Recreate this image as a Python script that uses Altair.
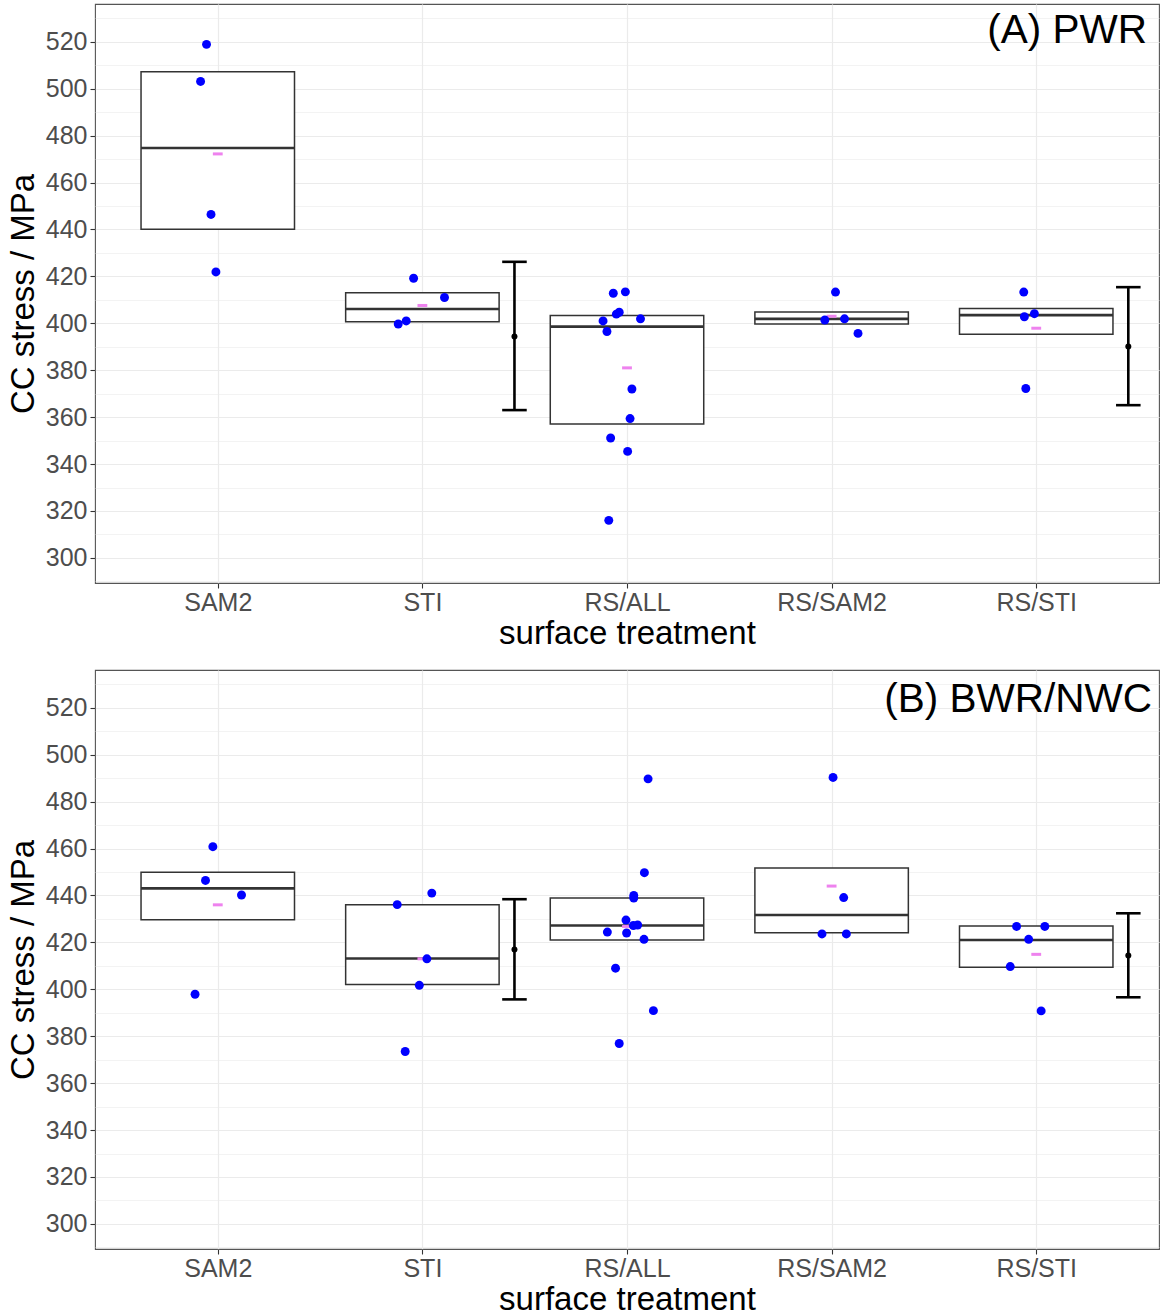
import json
import pandas as pd
import altair as alt

categories = ["SAM2", "STI", "RS/ALL", "RS/SAM2", "RS/STI"]

# ---------------- Panel A: PWR ----------------
a_values = {
    "SAM2": [518.9, 503.1, 446.4, 421.9],
    "STI": [419.2, 411.0, 401.0, 399.7],
    "RS/ALL": [412.8, 413.4, 403.9, 404.7, 401.0, 401.9, 396.5, 372.0, 359.4, 351.1, 345.4, 316.0],
    "RS/SAM2": [413.3, 401.4, 401.9, 395.7],
    "RS/STI": [413.3, 404.1, 402.8, 372.2],
}
a_jitter = {
    "SAM2": [-0.055, -0.084, -0.033, -0.009],
    "STI": [-0.043, 0.108, -0.079, -0.118],
    "RS/ALL": [-0.067, -0.008, -0.052, -0.038, -0.117, 0.066, -0.098, 0.024, 0.015, -0.080, 0.003, -0.089],
    "RS/SAM2": [0.019, -0.033, 0.063, 0.129],
    "RS/STI": [-0.061, -0.009, -0.058, -0.051],
}
a_q1 = [440.1, 400.7, 357.1, 399.7, 395.3]
a_median = [474.7, 406.1, 398.6, 401.9, 403.5]
a_q3 = [507.2, 413.0, 403.3, 404.8, 406.3]
a_mean = [472.2, 407.6, 381.0, 403.0, 397.9]
a_err_cat = ["STI", "RS/STI"]
a_err_center = [394.4, 390.1]
a_err_low = [363.0, 365.1]
a_err_high = [426.2, 415.4]

# ---------------- Panel B: BWR/NWC ----------------
b_values = {
    "SAM2": [460.8, 446.4, 440.2, 397.9],
    "STI": [441.0, 436.1, 413.0, 401.7, 373.5],
    "RS/ALL": [489.7, 449.7, 440.0, 438.9, 429.5, 427.2, 427.4, 424.4, 424.0, 421.3, 409.0, 390.9, 376.9],
    "RS/SAM2": [490.3, 439.1, 423.6, 423.6],
    "RS/STI": [426.8, 426.8, 421.3, 409.7, 390.8],
}
b_jitter = {
    "SAM2": [-0.024, -0.060, 0.116, -0.111],
    "STI": [0.046, -0.123, 0.022, -0.015, -0.084],
    "RS/ALL": [0.103, 0.085, 0.033, 0.033, -0.005, 0.031, 0.052, -0.096, -0.002, 0.083, -0.056, 0.129, -0.038],
    "RS/SAM2": [0.007, 0.059, -0.047, 0.072],
    "RS/STI": [-0.096, 0.042, -0.037, -0.127, 0.024],
}
b_q1 = [429.6, 402.0, 421.0, 424.1, 409.4]
b_median = [443.0, 413.1, 427.2, 431.7, 421.0]
b_q3 = [449.9, 436.0, 438.9, 451.7, 427.0]
b_mean = [436.0, 413.0, 426.8, 444.0, 414.9]
b_err_cat = ["STI", "RS/STI"]
b_err_center = [417.0, 414.4]
b_err_low = [395.7, 396.6]
b_err_high = [438.4, 432.4]

y_domain = [289.3, 536.1]
y_ticks = list(range(290, 531, 10))

W, H = 1064, 579
BOX_HALF = 0.375
MEAN_HALF = 0.024
ERR_OFFSET = 0.45
CAP_HALF = 0.06

label_expr = json.dumps(categories) + "[datum.value - 1]"

XS = alt.Scale(domain=[0.4, 5.6], nice=False, zero=False)
YS = alt.Scale(domain=y_domain, nice=False, zero=False)

X_AXIS = alt.Axis(values=[1, 2, 3, 4, 5], labelExpr=label_expr, grid=True,
                  gridColor="#EBEBEB", gridWidth=1.2, domain=False,
                  tickColor="#333333", tickSize=5, tickWidth=1.1,
                  labelPadding=2, title="surface treatment", titlePadding=2)
Y_AXIS = alt.Axis(values=y_ticks,
                  labelExpr="datum.value % 20 == 0 ? datum.label : ''",
                  grid=True,
                  gridColor="#EBEBEB",
                  gridWidth=alt.condition("datum.value % 20 == 0", alt.value(1.2), alt.value(0.6)),
                  tickOpacity=alt.condition("datum.value % 20 == 0", alt.value(1), alt.value(0)),
                  domain=False, tickColor="#333333", tickSize=5, tickWidth=1.1,
                  labelPadding=3, title="CC stress / MPa", titlePadding=5)


def X(f):
    return alt.X(f, scale=XS, axis=X_AXIS, title="surface treatment")


def Y(f):
    return alt.Y(f, scale=YS, axis=Y_AXIS, title="CC stress / MPa")


def panel(values, jitter, q1, med, q3, mean, err_cat, err_c, err_lo, err_hi,
          label, label_right, label_baseline):
    pts = []
    for i, c in enumerate(categories):
        for v, j in zip(values[c], jitter[c]):
            pts.append({"x": i + 1 + j, "v": v})
    pts = pd.DataFrame(pts)
    box = pd.DataFrame({
        "c": [i + 1 for i in range(len(categories))],
        "q1": q1, "med": med, "q3": q3, "mean": mean,
    })
    err = pd.DataFrame({
        "c": [categories.index(c) + 1 + ERR_OFFSET for c in err_cat],
        "m": err_c, "lo": err_lo, "hi": err_hi,
    })

    base_box = alt.Chart(box).transform_calculate(
        x1=f"datum.c - {BOX_HALF}", x2=f"datum.c + {BOX_HALF}",
        m1=f"datum.c - {MEAN_HALF}", m2=f"datum.c + {MEAN_HALF}",
    )
    rect = base_box.mark_rect(fill="white", stroke="#333333", strokeWidth=1.5).encode(
        x=X("x1:Q"), x2="x2:Q", y=Y("q1:Q"), y2="q3:Q",
    )
    median = base_box.mark_rule(color="#333333", strokeWidth=2.6).encode(
        x=X("x1:Q"), x2="x2:Q", y=Y("med:Q"),
    )
    mean_r = base_box.mark_rule(color="#EE82EE", strokeWidth=3).encode(
        x=X("m1:Q"), x2="m2:Q", y=Y("mean:Q"),
    )
    points = alt.Chart(pts).mark_circle(color="#0000FF", opacity=1, size=80).encode(
        x=X("x:Q"), y=Y("v:Q"),
    )
    base_err = alt.Chart(err).transform_calculate(
        l=f"datum.c - {CAP_HALF}", r=f"datum.c + {CAP_HALF}"
    )
    err_v = base_err.mark_rule(color="black", strokeWidth=2.6).encode(
        x=X("c:Q"), y=Y("lo:Q"), y2="hi:Q",
    )
    cap_hi = base_err.mark_rule(color="black", strokeWidth=2.6).encode(
        x=X("l:Q"), x2="r:Q", y=Y("hi:Q"),
    )
    cap_lo = base_err.mark_rule(color="black", strokeWidth=2.6).encode(
        x=X("l:Q"), x2="r:Q", y=Y("lo:Q"),
    )
    err_p = base_err.mark_circle(color="black", opacity=1, size=36).encode(
        x=X("c:Q"), y=Y("m:Q"),
    )
    txt = alt.Chart(pd.DataFrame({"t": [label]})).mark_text(
        align="right", baseline="alphabetic", fontSize=40.5, color="black",
        font="Liberation Sans",
    ).encode(x=alt.value(W - label_right), y=alt.value(label_baseline), text="t:N")

    return alt.layer(rect, median, mean_r, points, err_v, cap_hi, cap_lo, err_p, txt).properties(
        width=W, height=H
    )


pa = panel(a_values, a_jitter, a_q1, a_median, a_q3, a_mean,
           a_err_cat, a_err_center, a_err_low, a_err_high, "(A) PWR", 12, 39)
pb = panel(b_values, b_jitter, b_q1, b_median, b_q3, b_mean,
           b_err_cat, b_err_center, b_err_low, b_err_high, "(B) BWR/NWC", 7, 42)

chart = alt.vconcat(pa, pb, spacing=18).properties(
    padding={"left": 6, "top": 3, "right": 0, "bottom": 0}
).configure(
    font="Liberation Sans"
).configure_view(
    stroke="#555555", strokeWidth=1.1
).configure_axis(
    labelFontSize=25, labelColor="#4D4D4D", labelFont="Liberation Sans",
    titleFontSize=33, titleColor="black", titleFontWeight="normal", titleFont="Liberation Sans",
)

chart.save("out.html", embed_options={"renderer": "svg", "actions": False})
